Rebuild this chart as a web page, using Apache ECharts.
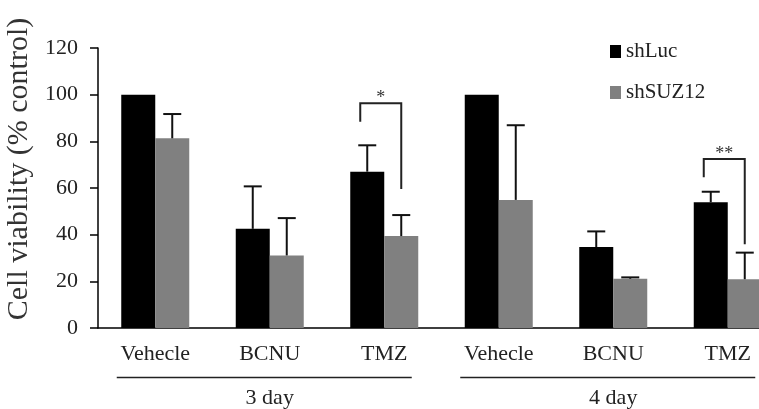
<!DOCTYPE html>
<html>
<head>
<meta charset="utf-8">
<script src="https://cdn.jsdelivr.net/npm/echarts@6/dist/echarts.min.js"></script>
<style>html,body{margin:0;padding:0;background:#fff}#c{width:759px;height:409px}</style>
</head>
<body>
<div id="c"></div>
<script>
const categories = ['Vehecle', 'BCNU', 'TMZ', 'Vehecle', 'BCNU', 'TMZ'];
const groupLabels = ['3 day', '4 day'];
const yTicks = [0, 20, 40, 60, 80, 100, 120];
const shLuc = [100, 42.5, 67, 100, 34.7, 53.9];
const shSUZ12 = [81.3, 31.1, 39.4, 54.9, 21.1, 20.9];
const shLucErrTop = [null, 60.7, 78.3, null, 41.4, 58.4];
const shSUZ12ErrTop = [91.7, 47.1, 48.4, 86.9, 21.7, 32.3];
// significance brackets: [category index, bracket top, left leg bottom, right leg bottom, label]
const sigCats = [2, 5];
const sigTop = [96.3, 72.4];
const sigLeftBottom = [88.4, 64.6];
const sigRightBottom = [59.6, 35.9];
const sigLabels = ['*', '**'];

const FONT = "'Liberation Serif','Times New Roman',serif";
const BAR_W = 34;

const errData = [];
shLuc.forEach((v, i) => { if (shLucErrTop[i] != null) errData.push([i, v, shLucErrTop[i], -1]); });
shSUZ12.forEach((v, i) => { if (shSUZ12ErrTop[i] != null) errData.push([i, v, shSUZ12ErrTop[i], 1]); });
const sigData = sigCats.map((c, k) => [c, sigTop[k], sigLeftBottom[k], sigRightBottom[k], k]);

const chart = echarts.init(document.getElementById('c'));
chart.setOption({
  animation: false,
  backgroundColor: '#fff',
  textStyle: { fontFamily: FONT },
  grid: { left: 98, right: -26, top: 48, bottom: 81, outerBoundsMode: 'none' },
  legend: {
    data: ['shLuc', 'shSUZ12'],
    orient: 'vertical',
    left: 610, top: 41, padding: 0,
    icon: 'rect', itemWidth: 11, itemHeight: 13, itemGap: 20,
    textStyle: { fontFamily: FONT, fontSize: 21, color: '#222' },
    selectedMode: false
  },
  xAxis: [{
    type: 'category', data: categories,
    axisLine: { lineStyle: { color: '#000', width: 1.5 } },
    axisTick: { show: false },
    axisLabel: { fontFamily: FONT, fontSize: 22, color: '#222', margin: 15, interval: 0 }
  }, {
    type: 'category', data: groupLabels, position: 'bottom',
    axisLine: { show: false }, axisTick: { show: false },
    axisLabel: { fontFamily: FONT, fontSize: 22, color: '#222', margin: 59, interval: 0 }
  }],
  yAxis: {
    type: 'value', min: 0, max: 120, interval: 20,
    axisLine: { show: true, lineStyle: { color: '#000', width: 1.5 } },
    axisTick: { show: true, length: 8, lineStyle: { color: '#000', width: 1.5 } },
    splitLine: { show: false },
    axisLabel: { fontFamily: FONT, fontSize: 22, color: '#222', margin: 20,
      formatter: v => yTicks.includes(v) ? String(v) : '' },
    name: 'Cell viability (% control)',
    nameLocation: 'middle', nameRotate: 90, nameGap: 49,
    nameTextStyle: { fontFamily: FONT, fontSize: 30, color: '#333', padding: [0, 0, 0, 38] }
  },
  series: [{
    name: 'shLuc', type: 'bar', data: shLuc, barWidth: BAR_W, barGap: '0%',
    itemStyle: { color: '#000' }
  }, {
    name: 'shSUZ12', type: 'bar', data: shSUZ12, barWidth: BAR_W, barGap: '0%',
    itemStyle: { color: '#808080' }
  }, {
    type: 'custom', name: 'err', data: errData, z: 5, clip: false,
    renderItem: (params, api) => {
      const c = api.value(0), side = api.value(3);
      const p0 = api.coord([c, api.value(1)]);
      const p1 = api.coord([c, api.value(2)]);
      const x = p0[0] + side * BAR_W / 2;
      const st = { stroke: '#111', lineWidth: 2 };
      return { type: 'group', children: [
        { type: 'line', shape: { x1: x, y1: p0[1], x2: x, y2: p1[1] }, style: st },
        { type: 'line', shape: { x1: x - 9, y1: p1[1], x2: x + 9, y2: p1[1] }, style: st }
      ] };
    }
  }, {
    type: 'custom', name: 'sig', data: sigData, z: 6, clip: false,
    renderItem: (params, api) => {
      const c = api.value(0);
      const top = api.coord([c, api.value(1)]);
      const lb = api.coord([c, api.value(2)]);
      const rb = api.coord([c, api.value(3)]);
      const xl = top[0] - 24, xr = top[0] + 17;
      const st = { stroke: '#222', lineWidth: 2, fill: null };
      return { type: 'group', children: [
        { type: 'polyline', shape: { points: [[xl, lb[1]], [xl, top[1]], [xr, top[1]], [xr, rb[1]]] }, style: st },
        { type: 'text', x: (xl + xr) / 2, y: top[1] + 4,
          style: { text: sigLabels[api.value(4)], fontFamily: FONT, fontSize: 18, fill: '#333', align: 'center', verticalAlign: 'bottom' } }
      ] };
    }
  }]
});

const lineY = chart.convertToPixel({ yAxisIndex: 0 }, 0) + 49.5;
const graphics = groupLabels.map((g, i) => {
  const cx = chart.convertToPixel({ xAxisIndex: 1 }, i);
  return { type: 'line', shape: { x1: cx - 153, y1: lineY, x2: cx + 142, y2: lineY },
    style: { stroke: '#222', lineWidth: 1.5 } };
});
chart.setOption({ graphic: graphics });
</script>
</body>
</html>
